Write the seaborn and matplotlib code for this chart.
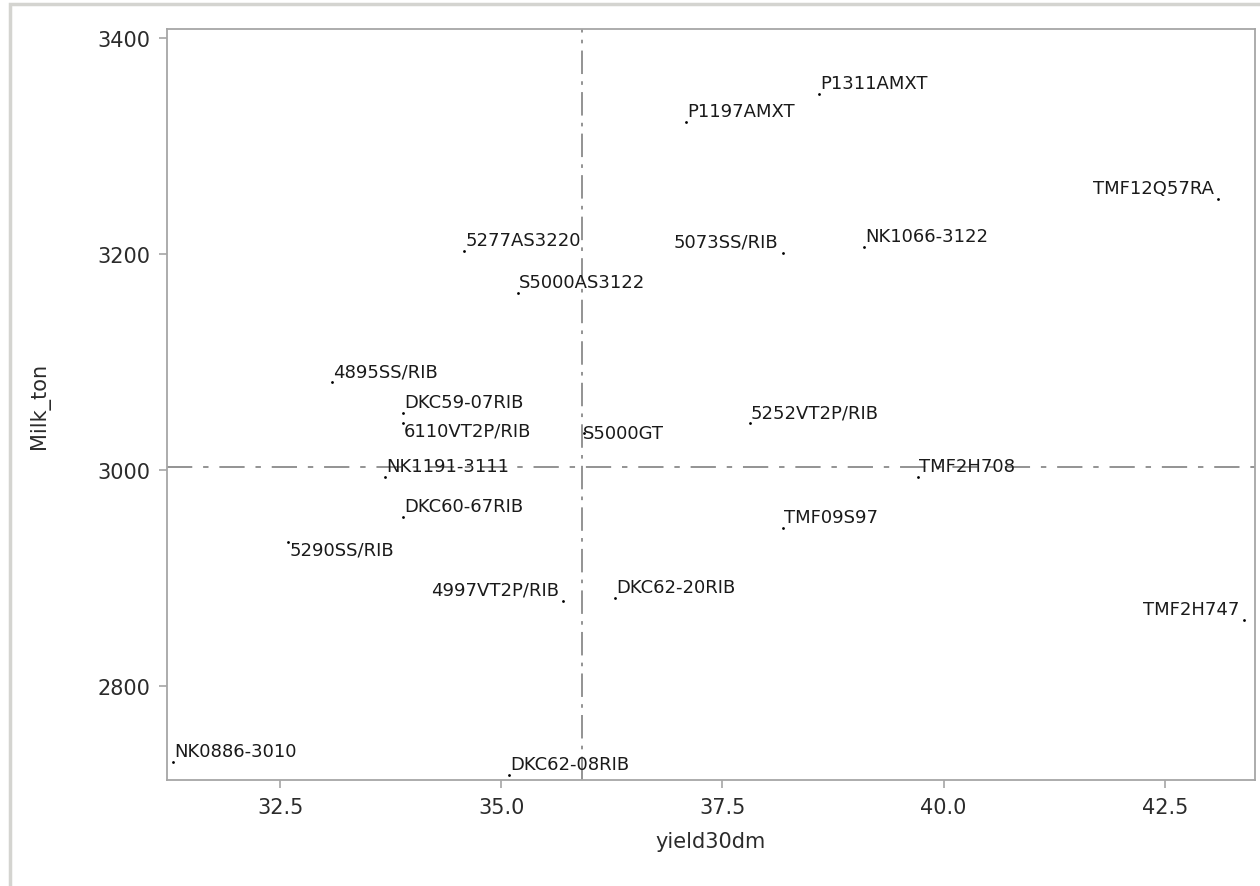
import matplotlib
matplotlib.use("Agg")
import matplotlib.pyplot as plt
import seaborn as sns
import pandas as pd
from matplotlib.patches import Rectangle

# ---- data ----
hybrids = ["P1311AMXT", "P1197AMXT", "5277AS3220", "5073SS/RIB", "S5000AS3122",
           "NK1066-3122", "TMF12Q57RA", "4895SS/RIB", "DKC59-07RIB", "6110VT2P/RIB",
           "NK1191-3111", "DKC60-67RIB", "5290SS/RIB", "S5000GT", "5252VT2P/RIB",
           "TMF2H708", "TMF09S97", "4997VT2P/RIB", "DKC62-20RIB", "TMF2H747",
           "NK0886-3010", "DKC62-08RIB"]
yield30dm = [38.59, 37.09, 34.58, 38.18, 35.19,
             39.10, 43.10, 33.09, 33.89, 33.89,
             33.69, 33.89, 32.59, 35.93, 37.81,
             39.71, 38.18, 35.70, 36.29, 43.39,
             31.29, 35.09]
milk_ton = [3348, 3322, 3203, 3201, 3164,
            3206, 3251, 3081, 3053, 3043,
            2993, 2956, 2933, 3034, 3043,
            2993, 2946, 2879, 2881, 2861,
            2730, 2718]
ref_x = 35.91
ref_y = 3003
x_ticks = [32.5, 35.0, 37.5, 40.0, 42.5]
y_ticks = [2800, 3000, 3200, 3400]

# label placement (style only)
place = ["NE", "NE", "NE", "NW", "NE",
         "NE", "NW", "NE", "NE", "SE",
         "NE", "NE", "SE", "E", "NE",
         "NE", "NE", "NW", "NE", "NW",
         "NE", "NE"]
offsets = {"NE": ((1, 11), "left"), "NW": ((-4, 11), "right"),
           "SE": ((1, -7), "left"), "E": ((-1, 0), "left")}

df = pd.DataFrame({"hybrid": hybrids, "yield30dm": yield30dm, "Milk_ton": milk_ton})

sns.set_theme(style="white")
plt.rcParams["font.family"] = ["DejaVu Sans"]

fig = plt.figure(figsize=(12.6, 8.87), dpi=100)
ax = fig.add_axes([167/1260, 1 - 781/887, (1255-167)/1260, (781-30)/887])

# outer frame
fig.patches.append(Rectangle((10/1260, -0.05), 1.2, 1 - 5/887 + 0.05, transform=fig.transFigure,
                             fill=False, edgecolor="#d4d4d0", linewidth=2.5, zorder=0))

ax.axvline(ref_x, color="#8a8a8a", linewidth=1.3, dashes=(13, 4, 2, 4), zorder=1)
ax.axhline(ref_y, color="#8a8a8a", linewidth=1.3, dashes=(14, 6, 3, 6), zorder=1)

sns.scatterplot(data=df, x="yield30dm", y="Milk_ton", ax=ax, color="black",
                s=4, linewidth=0, marker="o", zorder=3, legend=False)

for h, xv, yv, p in zip(hybrids, yield30dm, milk_ton, place):
    (dx, dy), ha = offsets[p]
    ax.annotate(h, (xv, yv), xytext=(dx, dy), textcoords="offset pixels",
                ha=ha, va="center", fontsize=13, color="#1a1a1a", zorder=4)

ax.set_xlim(31.22, 43.52)
ax.set_ylim(2713, 3408)
ax.set_xticks(x_ticks)
ax.set_xticklabels([f"{t:.1f}" for t in x_ticks])
ax.set_yticks(y_ticks)
ax.set_yticklabels([str(t) for t in y_ticks])

for s in ax.spines.values():
    s.set_visible(True)
    s.set_color("#a6a6a6")
    s.set_linewidth(1.3)

ax.tick_params(axis="both", which="major", direction="out", length=6, width=1.2,
               color="#a6a6a6", labelsize=15, labelcolor="#2b2b2b",
               bottom=True, left=True, top=False, right=False, pad=6)
ax.set_xlabel("yield30dm", fontsize=15, color="#2b2b2b", labelpad=10)
ax.set_ylabel("Milk_ton", fontsize=15, color="#2b2b2b", labelpad=34)

fig.savefig("out.png", dpi=100)
